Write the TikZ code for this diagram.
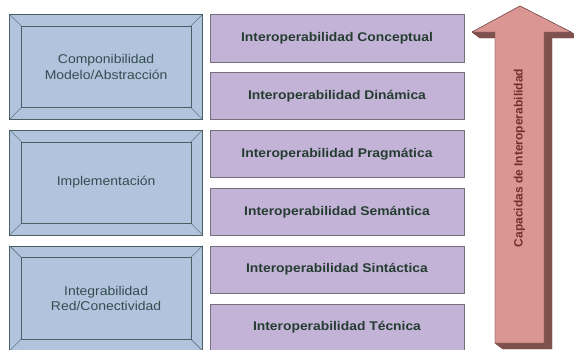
\documentclass[tikz,border=0pt]{standalone}
\usepackage{fontspec}
\setmainfont{Liberation Sans}
\newfontfamily\anchafont[FakeStretch=1.1]{Liberation Sans}
\usetikzlibrary{positioning}

\definecolor{capafill}{RGB}{178,196,221}
\definecolor{capaline}{RGB}{72,96,100}
\definecolor{capatext}{RGB}{50,78,80}
\definecolor{interfill}{RGB}{195,180,215}
\definecolor{interline}{RGB}{118,112,124}
\definecolor{intertext}{RGB}{38,60,50}
\definecolor{flechafill}{RGB}{218,150,147}
\definecolor{flechaside}{RGB}{126,80,78}
\definecolor{flechatext}{RGB}{112,48,48}

\begin{document}
\begin{tikzpicture}[
        x=1pt, y=-1pt,
        node distance=10pt and 7pt,
        inter/.style={rectangle, draw=interline, fill=interfill, minimum width=254pt, minimum height=47.5pt, inner sep=0pt, text=intertext, font=\anchafont\fontsize{12.6}{15}\selectfont\bfseries},
        capa/.style={rectangle, draw=capaline, fill=capafill, minimum width=193pt, minimum height=105pt, inner sep=0pt, align=center, text=capatext, font=\anchafont\fontsize{12.7}{15.5}\selectfont},
        bevel/.style={draw=capaline, thin},
        flechaside/.style={fill=flechaside, draw=flechaside, line join=round},
        flecha/.style={fill=flechafill, draw=flechaside!80!black, thin, line join=round}
    ]
        \useasboundingbox (0,0) rectangle (574,349);

        % Niveles de interoperabilidad
        \node (conc) [inter] at (337,38) {Interoperabilidad Conceptual};
        \node (din) [inter, below=of conc] {Interoperabilidad Dinámica};
        \node (prag) [inter, below=of din] {Interoperabilidad Pragmática};
        \node (sem) [inter, below=of prag] {Interoperabilidad Semántica};
        \node (sint) [inter, below=of sem] {Interoperabilidad Sintáctica};
        \node (tec) [inter, below=of sint] {Interoperabilidad Técnica};

        % Capas de la izquierda
        \node (comp) [capa, anchor=north east] at ([xshift=-7pt]conc.north west) {Componibilidad\\Modelo/Abstracción};
        \node (impl) [capa, anchor=north east] at ([xshift=-7pt]prag.north west) {Implementación};
        \node (integ) [capa, anchor=north east] at ([xshift=-7pt]sint.north west) {Integrabilidad\\Red/Conectividad};

        % Marco biselado
        \foreach \n in {comp, impl, integ} {
            \draw [bevel] ([shift={(12,12)}]\n.north west) rectangle ([shift={(-12,-12)}]\n.south east);
            \draw [bevel] (\n.north west) -- ([shift={(12,12)}]\n.north west);
            \draw [bevel] (\n.north east) -- ([shift={(-12,12)}]\n.north east);
            \draw [bevel] (\n.south west) -- ([shift={(12,-12)}]\n.south west);
            \draw [bevel] (\n.south east) -- ([shift={(-12,-12)}]\n.south east);
        }

        % Flecha de capacidades
        \coordinate (tip) at (520,6);
        \coordinate (rc) at (571,32);
        \coordinate (rs) at (544,32);
        \coordinate (rb) at (544,343);
        \coordinate (lb) at (495,343);
        \coordinate (ls) at (495,32);
        \coordinate (lc) at (472,32);
        \foreach \a/\b in {tip/rc, rc/rs, rs/rb, rb/lb, lb/ls, ls/lc, lc/tip}
            \draw [flechaside] (\a) -- (\b) -- ([shift={(8,6)}]\b) -- ([shift={(8,6)}]\a) -- cycle;
        \draw [flecha] (tip) -- (rc) -- (rs) -- (rb) -- (lb) -- (ls) -- (lc) -- cycle;
        \node (capac) [rotate=90, text=flechatext, font=\fontsize{12}{14}\selectfont\bfseries] at (519.5,158) {Capacidas de Interoperabilidad};
    \end{tikzpicture}
\end{document}
